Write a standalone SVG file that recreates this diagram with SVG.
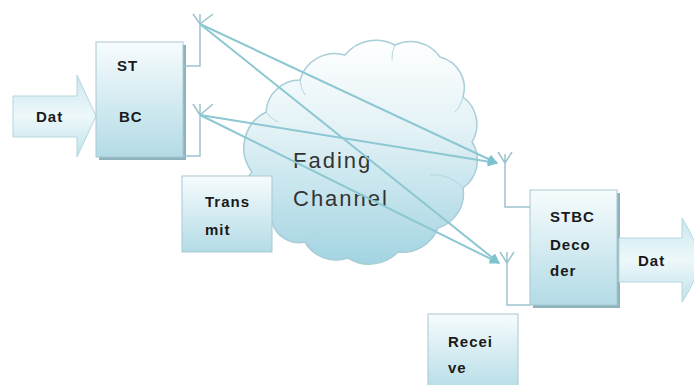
<svg xmlns="http://www.w3.org/2000/svg" width="694" height="385" viewBox="0 0 694 385">
<defs>
<linearGradient id="gBox" x1="0" y1="0" x2="0" y2="1">
<stop offset="0" stop-color="#f7fcfd"/>
<stop offset="1" stop-color="#b3dbe6"/>
</linearGradient>
<linearGradient id="gArrow" x1="0" y1="0" x2="0" y2="1">
<stop offset="0" stop-color="#c9e7ef"/>
<stop offset="0.5" stop-color="#eef8fa"/>
<stop offset="1" stop-color="#bfe2eb"/>
</linearGradient>
<linearGradient id="gCloud" x1="0" y1="0" x2="0" y2="1">
<stop offset="0" stop-color="#ffffff"/>
<stop offset="0.4" stop-color="#e3f2f6"/>
<stop offset="1" stop-color="#a3d4e2"/>
</linearGradient>
<marker id="ah" viewBox="0 0 10 10" refX="9" refY="5" markerWidth="6" markerHeight="5" orient="auto" markerUnits="strokeWidth">
<path d="M0,0 L10,5 L0,10 z" fill="#7cc3cf"/>
</marker>
<style>
.box{fill:url(#gBox);stroke:#a8c8d1;stroke-width:1}
.shadow{fill:#8fb3bd}
.arrow{fill:url(#gArrow);stroke:#b5d6de;stroke-width:1}
.wire{fill:none;stroke:#9cc3cd;stroke-width:1.5}
.ray{fill:none;stroke:#8cc7d2;stroke-width:2}
.t{font-family:"Liberation Sans",Arial,sans-serif;font-size:15px;font-weight:600;fill:#1a1a1a;letter-spacing:1px}
.big{font-family:"Liberation Sans",Arial,sans-serif;font-size:22px;fill:#333333;letter-spacing:2px}
</style>
</defs>
<rect width="694" height="385" fill="#ffffff"/>

<g id="cloud">
<path d="M252,172 A40,40 0 0 1 266,112 A34,34 0 0 1 300,80 A36,36 0 0 1 345,55 A40,40 0 0 1 395,45 A36,36 0 0 1 440,57 A32,32 0 0 1 463,97 A34,34 0 0 1 472,142 A34,34 0 0 1 463,188 A36,36 0 0 1 438,228 A38,38 0 0 1 398,252 A40,40 0 0 1 348,258 A36,36 0 0 1 305,242 A28,28 0 0 1 272,222 A30,30 0 0 1 252,172 Z" fill="url(#gCloud)" stroke="#a7cdd7" stroke-width="1.5"/>
<path d="M300,80 A30,30 0 0 0 305,95 M395,45 A28,28 0 0 0 392,60 M463,97 A30,30 0 0 1 455,112 M463,188 A40,40 0 0 0 430,175 M398,252 A30,30 0 0 1 392,238 M305,242 A32,32 0 0 0 318,230 M266,112 A30,30 0 0 0 278,122" fill="none" stroke="#b3d6df" stroke-width="1"/>
<text class="big" x="293" y="168">Fading</text>
<text class="big" x="293" y="206">Channel</text>
</g>

<g id="input-data">
<path class="arrow" d="M13,96 L77,96 L77,75 L96,116 L77,157 L77,137 L13,137 Z"/>
<text class="t" x="36" y="122">Dat</text>
</g>

<g id="stbc-encoder">
<rect class="shadow" x="99" y="45" width="87" height="115"/>
<rect class="box" x="96" y="42" width="87" height="115"/>
<text class="t" x="117" y="71">ST</text>
<text class="t" x="119" y="122">BC</text>
</g>

<g id="transmit">
<rect class="box" x="182" y="176" width="90" height="76"/>
<text class="t" x="205" y="207">Trans</text>
<text class="t" x="205" y="235">mit</text>
</g>

<g id="stbc-decoder">
<rect class="shadow" x="533" y="193" width="87" height="115"/>
<rect class="box" x="530" y="190" width="87" height="115"/>
<text class="t" x="550" y="222" letter-spacing="2">STBC</text>
<text class="t" x="550" y="250" letter-spacing="2">Deco</text>
<text class="t" x="550" y="276" letter-spacing="2">der</text>
</g>

<g id="output-data">
<path class="arrow" d="M619,238 L682,238 L682,218 Q696,240 700,260 Q696,282 682,302 L682,282 L619,282 Z"/>
<text class="t" x="638" y="266" letter-spacing="2">Dat</text>
</g>

<g id="receive">
<rect class="box" x="428" y="314" width="90" height="80"/>
<text class="t" x="448" y="347" letter-spacing="2">Recei</text>
<text class="t" x="448" y="373" letter-spacing="2">ve</text>
</g>

<g id="connectors">
<path class="wire" d="M183,66 L200,66 L200,14 M193,14 L200,24 L213,14"/>
<path class="wire" d="M183,156 L200,156 L200,104 M193,104 L200,115 L213,104"/>
<path class="wire" d="M530,207 L505,207 L505,154 M498,152 L505,163 L512,152"/>
<path class="wire" d="M530,305 L507,305 L507,252 M500,252 L507,263 L514,252"/>
<line class="ray" x1="200" y1="24" x2="497" y2="163" marker-end="url(#ah)"/>
<line class="ray" x1="200" y1="24" x2="499" y2="263" marker-end="url(#ah)"/>
<line class="ray" x1="200" y1="115" x2="497" y2="163" marker-end="url(#ah)"/>
<line class="ray" x1="200" y1="115" x2="499" y2="263" marker-end="url(#ah)"/>
</g>
</svg>
